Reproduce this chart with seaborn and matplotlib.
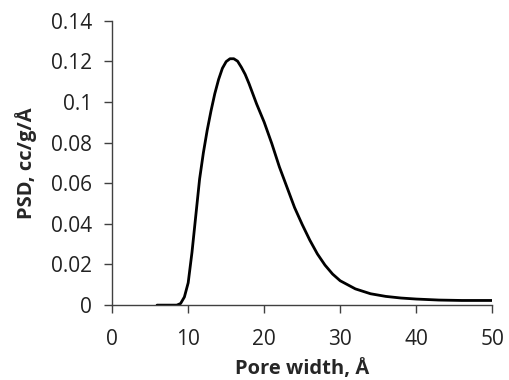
import matplotlib
matplotlib.use("Agg")
import matplotlib.pyplot as plt
import seaborn as sns
import pandas as pd

pore_width = [5.9, 8.5, 9.0, 9.5, 10.0, 10.5, 11.0, 11.5, 12.0, 12.5, 13.0, 13.5,
              14.0, 14.5, 15.0, 15.5, 16.0, 16.5, 17.0, 17.5, 18.0, 18.5, 19.0,
              19.5, 20.0, 21.0, 22.0, 23.0, 24.0, 25.0, 26.0, 27.0, 28.0, 29.0,
              30.0, 32.0, 34.0, 36.0, 38.0, 40.0, 43.0, 46.0, 50.0]
psd = [0.0, 0.0, 0.0008, 0.004, 0.011, 0.026, 0.044, 0.062, 0.075, 0.086, 0.0955,
       0.104, 0.111, 0.1165, 0.1198, 0.1212, 0.1212, 0.1200, 0.1170, 0.1135, 0.1090,
       0.1040, 0.0990, 0.0945, 0.0900, 0.0795, 0.0680, 0.0580, 0.0480, 0.0397,
       0.0320, 0.0252, 0.0197, 0.0153, 0.0120, 0.0080, 0.0056, 0.0043, 0.0035,
       0.0030, 0.0025, 0.0023, 0.0023]
x_ticks = [0, 10, 20, 30, 40, 50]
y_ticks = [0, 0.02, 0.04, 0.06, 0.08, 0.1, 0.12, 0.14]
y_tick_labels = ["0", "0.02", "0.04", "0.06", "0.08", "0.1", "0.12", "0.14"]

sns.set_style("white")
plt.rcParams['font.family'] = ['Open Sans', 'DejaVu Sans']

df = pd.DataFrame({"x": pore_width, "y": psd})
fig = plt.figure(figsize=(5.1, 3.8), dpi=100)
ax = fig.add_axes([0.22, 0.197, 0.745, 0.749])
sns.lineplot(data=df, x="x", y="y", ax=ax, color="black", linewidth=2.0)

ax.set_xlim(0, 50)
ax.set_ylim(0, 0.14)
ax.set_xticks(x_ticks)
ax.set_xticklabels([str(t) for t in x_ticks])
ax.set_yticks(y_ticks)
ax.set_yticklabels(y_tick_labels)
for s in ["top", "right"]:
    ax.spines[s].set_visible(False)
for s in ["left", "bottom"]:
    ax.spines[s].set_color("#404040")
    ax.spines[s].set_linewidth(1.0)
ax.tick_params(axis="both", direction="out", length=5.5, width=1.0, color="#404040",
               labelsize=15, labelcolor="#222222", bottom=True, left=True)
ax.tick_params(axis="y", pad=9)
ax.tick_params(axis="x", pad=12)
ax.set_xlabel("Pore width, Å", fontsize=14.5, fontweight="bold", labelpad=6)
ax.set_ylabel("PSD, cc/g/Å", fontsize=14.5, fontweight="bold", labelpad=10)
ax.grid(False)

fig.savefig("out.png", dpi=100)
